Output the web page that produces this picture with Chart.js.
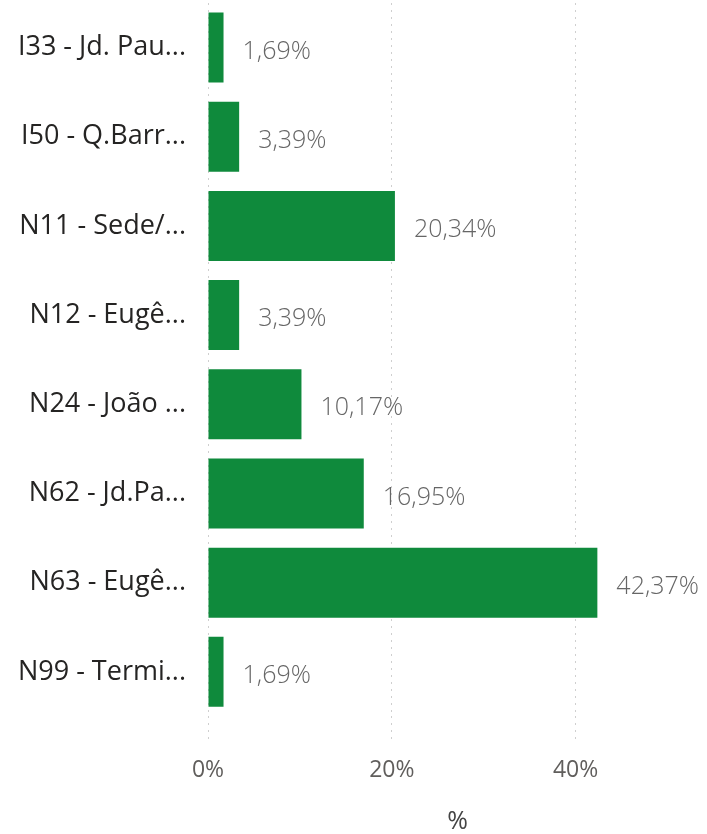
<!DOCTYPE html>
<html>
<head>
<meta charset="utf-8">
<script src="https://cdn.jsdelivr.net/npm/chart.js@4/dist/chart.umd.min.js"></script>
<style>
  html, body { margin: 0; padding: 0; background: #fff; }
  #wrap { width: 707px; height: 834px; position: relative; }
</style>
</head>
<body>
<div id="wrap"><canvas id="grafico"></canvas></div>
<script>
// categorias (rótulos já truncados como no original)
var categorias = ["I33 - Jd. Pau...", "I50 - Q.Barr...", "N11 - Sede/...", "N12 - Eugê...", "N24 - João ...", "N62 - Jd.Pa...", "N63 - Eugê...", "N99 - Termi..."];
var percentuais = [1.69, 3.39, 20.34, 3.39, 10.17, 16.95, 42.37, 1.69];
var ticksX = [0, 20, 40];

var fonte = "'Open Sans', 'DejaVu Sans', sans-serif";

function formataPct(v) {
    return v.toFixed(2).replace('.', ',') + '%';
}

// rótulos de dados à direita das barras
var rotulosBarras = {
    id: 'rotulosBarras',
    afterDatasetsDraw: function(chart) {
        var ctx = chart.ctx;
        var meta = chart.getDatasetMeta(0);
        ctx.save();
        ctx.font = '300 25px ' + fonte;
        ctx.fillStyle = '#666666';
        ctx.textAlign = 'left';
        ctx.textBaseline = 'middle';
        meta.data.forEach(function(bar, i) {
            ctx.fillText(formataPct(percentuais[i]), bar.x + 19, bar.y + 4);
        });
        ctx.restore();
    }
};

var ctx = document.getElementById('grafico').getContext('2d');
var chart = new Chart(ctx, {
    type: 'bar',
    data: {
        labels: categorias,
        datasets: [
            {
                label: "%",
                backgroundColor: '#0f8a3c',
                data: percentuais,
                categoryPercentage: 1,
                barPercentage: 0.785
            }
        ]
    },
    options: {
        indexAxis: 'y',
        responsive: true,
        maintainAspectRatio: false,
        animation: false,
        layout: { padding: { top: 3, right: 0, bottom: 0, left: 0 } },
        plugins: {
            legend: { display: false },
            tooltip: { enabled: false }
        },
        scales: {
            x: {
                min: 0,
                max: 54.3,
                afterBuildTicks: function(axis) {
                    axis.ticks = ticksX.map(function(v) { return { value: v }; });
                },
                afterFit: function(axis) {
                    axis.paddingLeft = 0;
                    axis.paddingRight = 0;
                },
                border: { display: false, dash: [2, 5] },
                grid: {
                    color: '#cfcfcf',
                    lineWidth: 1,
                    drawTicks: true,
                    tickLength: 24,
                    tickColor: '#cfcfcf',
                    tickBorderDash: [2, 5]
                },
                ticks: {
                    padding: 16,
                    color: '#605e5c',
                    font: { family: fonte, size: 23 },
                    callback: function(v) { return v + '%'; }
                },
                title: {
                    display: true,
                    text: '%',
                    color: '#444444',
                    font: { family: fonte, size: 25, lineHeight: 1 },
                    padding: { top: 9, bottom: 0 }
                }
            },
            y: {
                border: { display: false },
                grid: { display: false },
                afterFit: function(axis) {
                    axis.width = 208;
                    axis.paddingTop = 0;
                    axis.paddingBottom = 0;
                },
                ticks: {
                    padding: 14,
                    color: '#252423',
                    font: { family: fonte, size: 27 }
                }
            }
        }
    },
    plugins: [rotulosBarras]
});
</script>
</body>
</html>
